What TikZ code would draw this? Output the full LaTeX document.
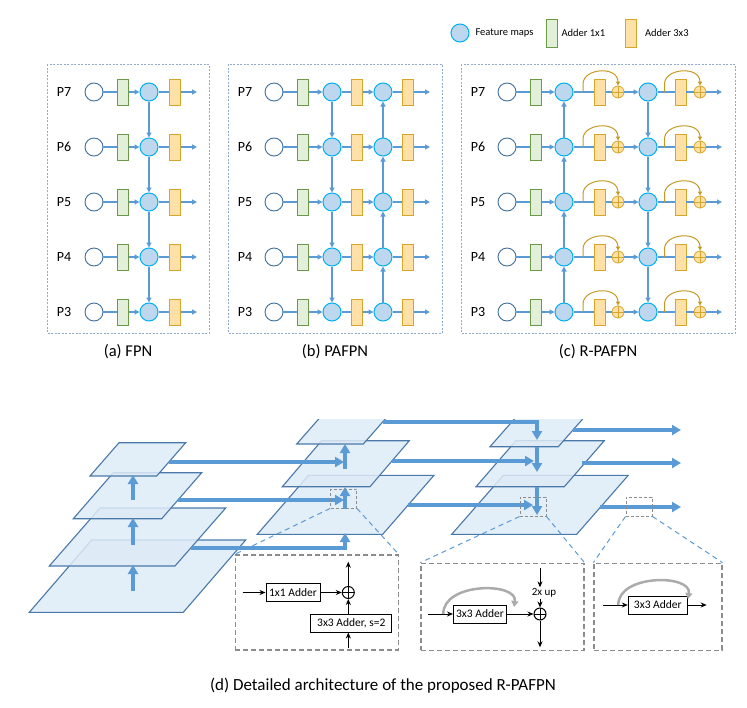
\documentclass[tikz,border=0pt]{standalone}
\usepackage{fontspec}
\setmainfont{Carlito}
\usetikzlibrary{arrows.meta,calc}
\definecolor{lblue}{HTML}{5B9BD5}
\definecolor{fmfill}{HTML}{BDD7EE}
\definecolor{fmdraw}{HTML}{00B0F0}
\definecolor{wdraw}{HTML}{41719C}
\definecolor{gfill}{HTML}{E2F0D9}
\definecolor{gdraw}{HTML}{6A9A48}
\definecolor{ofill}{HTML}{FFE0A6}
\definecolor{odraw}{HTML}{D6A62C}
\definecolor{arcc}{HTML}{C49A22}
\definecolor{boxc}{HTML}{8FAACB}
\definecolor{planef}{HTML}{DDEBF7}
\definecolor{planed}{HTML}{4A78A8}
\definecolor{grayd}{HTML}{8C8C8C}
\definecolor{arcg}{HTML}{ABABAB}
\begin{document}
\begin{tikzpicture}[x=1pt,y=-1pt,
  fmap/.style={circle,draw=fmdraw,fill=fmfill,line width=1pt,minimum size=18pt,inner sep=0pt},
  wmap/.style={circle,draw=wdraw,fill=white,line width=0.9pt,minimum size=18pt,inner sep=0pt},
  add1/.style={rectangle,draw=gdraw,fill=gfill,line width=0.9pt,minimum width=11pt,minimum height=26pt,inner sep=0pt},
  add3/.style={rectangle,draw=odraw,fill=ofill,line width=0.9pt,minimum width=11pt,minimum height=26pt,inner sep=0pt},
  psum/.style={circle,draw=odraw,fill=ofill,line width=0.8pt,minimum size=12pt,inner sep=0pt,
    path picture={\draw[odraw,line width=0.8pt] (path picture bounding box.north) -- (path picture bounding box.south) (path picture bounding box.west) -- (path picture bounding box.east);}},
  flow/.style={lblue,line width=1.3pt},
  flowa/.style={flow,-{Triangle[length=5pt,width=5pt]}},
  skiparc/.style={arcc,line width=1pt,-{Triangle[length=4pt,width=4pt]}},
  panel/.style={draw=boxc,line width=0.8pt,dash pattern=on 2pt off 1.5pt},
  plabel/.style={font=\fontsize{14}{16}\selectfont},
  legtext/.style={font=\fontsize{10.5}{12}\selectfont},
  captext/.style={font=\fontsize{16.5}{19}\selectfont},
  plane/.style={fill=planef,fill opacity=0.85,draw=planed,line width=1.1pt},
  bigarrow/.style={lblue,line width=3.6pt,-{Triangle[length=9pt,width=10pt]}},
  bigline/.style={lblue,line width=3.6pt},
  dbox/.style={draw=grayd,line width=1.2pt,dash pattern=on 5pt off 3pt,inner sep=0pt},
  sbox/.style={draw=grayd,line width=1pt,dash pattern=on 3pt off 2pt,inner sep=0pt,minimum width=26pt,minimum height=19pt},
  zoomline/.style={lblue,line width=1pt,dash pattern=on 5pt off 4pt},
  abox/.style={draw=black,line width=1pt,fill=white,minimum height=18pt,inner sep=1pt,font=\fontsize{11.5}{13}\selectfont},
  blk/.style={black,line width=1pt,-{Stealth[length=6pt,width=5pt]}},
  bplus/.style={circle,draw=black,line width=1pt,minimum size=12pt,inner sep=0pt,
    path picture={\draw[black,line width=1pt] (path picture bounding box.north) -- (path picture bounding box.south) (path picture bounding box.west) -- (path picture bounding box.east);}},
  garc/.style={arcg,line width=2.5pt,-{Triangle[length=6pt,width=7pt]}}
]
\useasboundingbox (0,0) rectangle (747,707);

% ---------------- legend
\node[fmap] (lgf) at (460,33) {};
\node[anchor=west,legtext] (lgft) at (472,33) {Feature maps};
\node[add1,minimum height=28pt] (lgg) at (552,33) {};
\node[anchor=west,legtext] (lggt) at (558,33) {Adder 1x1};
\node[add3,minimum height=28pt] (lgo) at (631,33) {};
\node[anchor=west,legtext] (lgot) at (641.5,33) {Adder 3x3};

% ---------------- panel boxes
\draw[panel] (47,64) rectangle (209,333);
\draw[panel] (228,64) rectangle (442,333);
\draw[panel] (461,64) rectangle (735,333);
\node[captext] (capa) at (128,352) {(a) FPN};
\node[captext] (capb) at (335,352) {(b) PAFPN};
\node[captext] (capc) at (598,352) {(c) R-PAFPN};

\foreach \r/\y in {7/92,6/147,5/202,4/257,3/312}{
  % (a) FPN
  \node[plabel] (al\r) at (64,\y) {P\r};
  \node[wmap] (aw\r) at (94,\y) {};
  \node[add1] (ag\r) at (123,\y) {};
  \node[fmap] (af\r) at (149,\y) {};
  \node[add3] (ao\r) at (175,\y) {};
  \coordinate (ae\r) at (197,\y);
  \draw[flow] (aw\r) -- (ag\r);
  \draw[flowa] (ag\r) -- (af\r);
  \draw[flow] (af\r) -- (ao\r);
  \draw[flowa] (ao\r) -- (ae\r);
  % (b) PAFPN
  \node[plabel] (bl\r) at (245,\y) {P\r};
  \node[wmap] (bw\r) at (274,\y) {};
  \node[add1] (bg\r) at (303,\y) {};
  \node[fmap] (bf\r) at (332,\y) {};
  \node[add3] (bo\r) at (357,\y) {};
  \node[fmap] (bF\r) at (383,\y) {};
  \node[add3] (bO\r) at (408,\y) {};
  \coordinate (be\r) at (430,\y);
  \draw[flow] (bw\r) -- (bg\r);
  \draw[flowa] (bg\r) -- (bf\r);
  \draw[flow] (bf\r) -- (bo\r);
  \draw[flowa] (bo\r) -- (bF\r);
  \draw[flow] (bF\r) -- (bO\r);
  \draw[flowa] (bO\r) -- (be\r);
  % (c) R-PAFPN
  \node[plabel] (cl\r) at (478,\y) {P\r};
  \node[wmap] (cw\r) at (507,\y) {};
  \node[add1] (cg\r) at (536,\y) {};
  \node[fmap] (cf\r) at (564,\y) {};
  \node[add3] (co\r) at (600,\y) {};
  \node[psum] (cp\r) at (618,\y) {};
  \node[fmap] (cF\r) at (648,\y) {};
  \node[add3] (cO\r) at (680.5,\y) {};
  \node[psum] (cP\r) at (700,\y) {};
  \coordinate (ce\r) at (722,\y);
  \coordinate (cs\r) at (583,\y);
  \coordinate (cS\r) at (664.5,\y);
  \draw[flow] (cw\r) -- (cg\r);
  \draw[flowa] (cg\r) -- (cf\r);
  \draw[flow] (cf\r) -- (co\r);
  \draw[flow] (co\r) -- (cp\r);
  \draw[flowa] (cp\r) -- (cF\r);
  \draw[flow] (cF\r) -- (cO\r);
  \draw[flow] (cO\r) -- (cP\r);
  \draw[flowa] (cP\r) -- (ce\r);
  \draw[skiparc] (cs\r) -- ++(0,-8) .. controls +(0,-16) and +(0,-20) .. (cp\r.north);
  \draw[skiparc] (cS\r) -- ++(0,-8) .. controls +(0,-16) and +(0,-20) .. (cP\r.north);
}
\foreach \u/\l in {7/6,6/5,5/4,4/3}{
  \draw[flowa] (af\u) -- (af\l);
  \draw[flowa] (bf\u) -- (bf\l);
  \draw[flowa] (bF\l) -- (bF\u);
  \draw[flowa] (cf\l) -- (cf\u);
  \draw[flowa] (cF\u) -- (cF\l);
}

% ---------------- (d) planes
% left pyramid
\draw[plane] (29.3,612.3) -- (183.3,612.3) -- (245.7,540) -- (91.7,540) -- cycle;
\draw[plane] (49.3,566) -- (175,566) -- (225.7,508) -- (100,508) -- cycle;
\draw[plane] (73.3,518.7) -- (161.7,518.7) -- (201.7,472.7) -- (113.3,472.7) -- cycle;
\draw[plane] (90,476) -- (156.7,476) -- (185.7,442.7) -- (119,442.7) -- cycle;
\begin{scope}
\clip (0,419.5) rectangle (747,707);
% middle pyramid
\draw[plane] (257.3,534.3) -- (382.7,534.3) -- (434,475.3) -- (308.6,475.3) -- cycle;
\draw[plane] (282.3,486.7) -- (370,486.7) -- (409.3,440.7) -- (321.6,440.7) -- cycle;
\draw[plane] (296.7,444) -- (363.3,444) -- (392.3,411) -- (325.7,411) -- cycle;
% right pyramid
\draw[plane] (451.7,534.3) -- (576.7,534.3) -- (628.3,475.3) -- (503.4,475.3) -- cycle;
\draw[plane] (476,486.7) -- (564.3,486.7) -- (604.3,440.7) -- (516,440.7) -- cycle;
\draw[plane] (490,446.7) -- (558.3,446.7) -- (587.3,413.7) -- (519,413.7) -- cycle;
\draw[bigline] (383,422) -- (537,422) -- (537,428);
\end{scope}

% left pyramid up arrows
\draw[bigarrow] (133,500) -- (133,475);
\draw[bigarrow] (133,545) -- (133,518);
\draw[bigarrow] (133,591) -- (133,565);
% left -> middle
\draw[bigarrow] (169,462) -- (344,462);
\draw[bigarrow] (178,500) -- (344,500);
\draw[bigarrow] (191,548) -- (345,548) -- (345,533);
\draw[bigarrow] (345,469) -- (345,444);
\draw[bigarrow] (345,509) -- (345,487);
% middle -> right
\draw[bigarrow] (537,426) -- (537,440);
\draw[bigarrow] (537,447) -- (537,472);
\draw[bigarrow] (537,487) -- (537,515);
\draw[bigarrow] (392,461) -- (534,461);
\draw[bigarrow] (408,505) -- (533,505);
% outputs
\draw[bigarrow] (573,430) -- (681,430);
\draw[bigarrow] (582,463) -- (681,463);
\draw[bigarrow] (600,507) -- (681,507);

% small dashed boxes
\node[sbox] (z1) at (343.5,498.5) {};
\node[sbox] (z2) at (533,506.5) {};
\node[sbox] (z3) at (639,506.5) {};

% detail boxes
\node[dbox,minimum width=163pt,minimum height=95pt] (D1) at (316.7,602.5) {};
\node[dbox,minimum width=163pt,minimum height=87pt] (D2) at (502.4,606.7) {};
\node[dbox,minimum width=128pt,minimum height=87pt] (D3) at (657.9,606.7) {};
\draw[zoomline] (z1.south west) -- (D1.north west);
\draw[zoomline] (z1.south east) -- (D1.north east);
\draw[zoomline] (z2.south west) -- (D2.north west);
\draw[zoomline] (z2.south east) -- (D2.north east);
\draw[zoomline] (z3.south west) -- (D3.north west);
\draw[zoomline] (z3.south east) -- (D3.north east);

% detail 1
\node[abox,minimum width=54pt] (a11) at (293,592.5) {1x1 Adder};
\node[bplus] (s1) at (348.3,592.5) {};
\node[abox,minimum width=81pt] (a33s) at (351.3,623) {3x3 Adder, s=2};
\coordinate (in1) at (242.7,592.5);
\coordinate (out1) at (348.3,561.7);
\coordinate (in1b) at (348.3,648.3);
\draw[blk] (in1) -- (a11);
\draw[blk] (a11) -- (s1);
\draw[blk] (s1) -- (out1);
\draw[blk] (s1 |- a33s.north) -- (s1.south);
\draw[blk] (in1b) -- (s1 |- a33s.south);

% detail 2
\node[abox,minimum width=53pt] (a32) at (480,614) {3x3 Adder};
\node[bplus] (s2) at (540,614) {};
\node[font=\fontsize{11}{13}\selectfont,inner sep=1pt] (up2) at (544,593) {2x up};
\coordinate (in2) at (428.3,614);
\coordinate (in2a) at (443.3,614);
\coordinate (t2) at (540,568.3);
\coordinate (b2) at (540,647.3);
\draw[blk] (in2) -- (a32);
\draw[garc] (in2a) .. controls (443,582) and (518,582) .. (514,607);
\draw[blk] (a32) -- (s2);
\draw[blk] (t2) -- (t2 |- up2.north);
\draw[blk] (t2 |- up2.south) -- (s2.north);
\draw[blk] (s2) -- (b2);

% detail 3
\node[abox,minimum width=59pt] (a33) at (657.8,605) {3x3 Adder};
\coordinate (in3) at (603.3,605);
\coordinate (in3a) at (618.3,605);
\coordinate (out3) at (706.7,605);
\draw[blk] (in3) -- (a33);
\draw[garc] (in3a) .. controls (618,574) and (692,574) .. (688,599);
\draw[blk] (a33) -- (out3);

\node[font=\fontsize{17}{20}\selectfont] (capd) at (383,686) {(d) Detailed architecture of the proposed R-PAFPN};
\end{tikzpicture}
\end{document}
